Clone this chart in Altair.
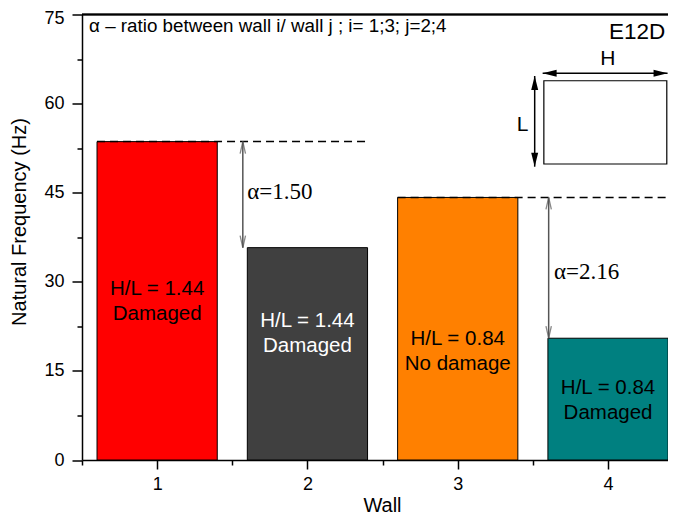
import altair as alt
import pandas as pd

# ---------------- data ----------------
walls = [1, 2, 3, 4]
frequencies = [53.6, 35.75, 44.2, 20.5]
hl_ratios = ["H/L = 1.44", "H/L = 1.44", "H/L = 0.84", "H/L = 0.84"]
conditions = ["Damaged", "Damaged", "No damage", "Damaged"]
alpha_labels = ["α=1.50", "α=2.16"]
alpha_pairs = [(1, 2), (3, 4)]
y_major = [0, 15, 30, 45, 60, 75]
y_minor = [7.5, 22.5, 37.5, 52.5, 67.5]
x_major = [1, 2, 3, 4]
x_minor = [0.5, 1.5, 2.5, 3.5]
note_text = "α – ratio between wall i/ wall j ; i= 1;3; j=2;4"
tag_text = "E12D"

# ---------------- styles / layout ----------------
bar_colors = ["#ff0000", "#404040", "#ff8000", "#008080"]
label_colors = ["#000000", "#ffffff", "#000000", "#000000"]
label_y = [28.87, 23.48, 20.45, 12.04]
HALF = 0.4
X_MIN, X_MAX = 0.5, 4.399
Y_MIN, Y_MAX = 0, 75
W, H = 586, 445.5
SANS = "Liberation Sans"
SERIF = "Liberation Serif"

xs = alt.Scale(domain=[X_MIN, X_MAX], nice=False, zero=False)
ys = alt.Scale(domain=[Y_MIN, Y_MAX], nice=False)

x_axis = alt.Axis(
    values=sorted(x_major + x_minor),
    labelExpr="datum.value % 1 == 0 ? format(datum.value, 'd') : ''",
    tickSize={"condition": {"test": "datum.value % 1 == 0", "value": 9}, "value": 5},
    tickWidth=1.5, tickColor="black", domainColor="black", domainWidth=1.5,
    labelFont=SANS, labelFontSize=18, labelColor="black", labelPadding=6,
    labelFlush=False, grid=False,
    title="Wall", titleFont=SANS, titleFontSize=20, titleFontWeight="normal",
    titleColor="black", titlePadding=2, titleX=300,
)
y_axis = alt.Axis(
    values=sorted(y_major + y_minor),
    labelExpr="datum.value % 15 == 0 ? format(datum.value, 'd') : ''",
    tickSize={"condition": {"test": "datum.value % 15 == 0", "value": 10}, "value": 5},
    labelOffset={"condition": {"test": "datum.value == 75", "value": 3.5}, "value": 0},
    tickWidth=1.5, tickColor="black", domainColor="black", domainWidth=1.5,
    labelFont=SANS, labelFontSize=18, labelColor="black", labelPadding=8,
    labelFlush=False, grid=False,
    title="Natural Frequency (Hz)", titleFont=SANS, titleFontSize=20,
    titleFontWeight="normal", titleColor="black", titlePadding=14, titleY=207,
)

bars = pd.DataFrame({
    "wall": walls,
    "freq": frequencies,
    "x0": [w - HALF for w in walls],
    "x1": [w + HALF for w in walls],
    "text": [f"{a}\n{b}" for a, b in zip(hl_ratios, conditions)],
    "tcolor": label_colors,
    "ly": label_y,
})

bar_layer = alt.Chart(bars).mark_rect(stroke="black", strokeWidth=1).encode(
    x=alt.X("x0:Q", scale=xs, axis=x_axis),
    x2="x1:Q",
    y=alt.Y("freq:Q", scale=ys, axis=y_axis),
    y2=alt.datum(0),
    color=alt.Color("wall:N", scale=alt.Scale(domain=walls, range=bar_colors), legend=None),
)

bar_text = alt.Chart(bars).mark_text(
    font=SANS, fontSize=20.5, lineBreak="\n", lineHeight=25, align="center", baseline="middle"
).encode(
    x=alt.X("wall:Q", scale=xs),
    y=alt.Y("ly:Q", scale=ys),
    text="text:N",
    color=alt.Color("tcolor:N", scale=None),
)

# reference dashed lines at the top of walls i
fdict = dict(zip(walls, frequencies))
ref = pd.DataFrame({
    "x0": [i - HALF for i, j in alpha_pairs],
    "x1": [2.4, X_MAX],
    "y": [fdict[i] for i, j in alpha_pairs],
})
ref_layer = alt.Chart(ref).mark_rule(strokeDash=[8, 5], strokeWidth=1.5, color="black").encode(
    x=alt.X("x0:Q", scale=xs), x2="x1:Q", y=alt.Y("y:Q", scale=ys)
)

# alpha arrows
arrow_x = [1.57, 3.605]
arr = pd.DataFrame({
    "x": arrow_x,
    "hi": [fdict[i] for i, j in alpha_pairs],
    "lo": [fdict[j] for i, j in alpha_pairs],
    "label": alpha_labels,
    "lx": [1.6, 3.64],
    "lyy": [45.1, 31.65],
})
arrow_rule = alt.Chart(arr).mark_rule(color="#555555", strokeWidth=1.5).encode(
    x=alt.X("x:Q", scale=xs), y=alt.Y("hi:Q", scale=ys), y2="lo:Q"
)
head_up = alt.Chart(arr).mark_point(
    shape="M -0.45 2 L 0 0 L 0.45 2", filled=False, size=144, color="#555555", strokeWidth=1.3
).encode(x=alt.X("x:Q", scale=xs), y=alt.Y("hi:Q", scale=ys))
head_down = alt.Chart(arr).mark_point(
    shape="M -0.45 -2 L 0 0 L 0.45 -2", filled=False, size=144, color="#555555", strokeWidth=1.3
).encode(x=alt.X("x:Q", scale=xs), y=alt.Y("lo:Q", scale=ys))
alpha_text = alt.Chart(arr).mark_text(
    font=SERIF, fontSize=23, align="left", baseline="middle", color="black"
).encode(x=alt.X("lx:Q", scale=xs), y=alt.Y("lyy:Q", scale=ys), text="label:N")

# top frame line
top_line = alt.Chart(bars).mark_rule(color="black", strokeWidth=1.5).encode(
    y=alt.datum(Y_MAX), x=alt.value(0), x2=alt.value(W)
)

# annotations
notes = pd.DataFrame({"x": [0.547, 4.194], "y": [73.06, 72.05], "t": [note_text, tag_text]})
note_layer = alt.Chart(notes.iloc[[0]]).mark_text(
    font=SANS, fontSize=18.8, align="left", baseline="middle", color="black"
).encode(x=alt.X("x:Q", scale=xs), y=alt.Y("y:Q", scale=ys), text="t:N")
tag_layer = alt.Chart(notes.iloc[[1]]).mark_text(
    font=SANS, fontSize=22.5, align="center", baseline="middle", color="black"
).encode(x=alt.X("x:Q", scale=xs), y=alt.Y("y:Q", scale=ys), text="t:N")

# H x L sketch
sk_rect = pd.DataFrame({"x0": [3.573], "x1": [4.391], "y0": [49.83], "y1": [63.85]})
sketch_rect = alt.Chart(sk_rect).mark_rect(fill="white", stroke="black", strokeWidth=1.2).encode(
    x=alt.X("x0:Q", scale=xs), x2="x1:Q", y=alt.Y("y0:Q", scale=ys), y2="y1:Q"
)
h_arrow = pd.DataFrame({"x0": [3.565], "x1": [4.396], "y": [65.10]})
l_arrow = pd.DataFrame({"x": [3.512], "y0": [49.38], "y1": [64.65]})
h_rule = alt.Chart(h_arrow).mark_rule(color="black", strokeWidth=1.5).encode(
    x=alt.X("x0:Q", scale=xs), x2="x1:Q", y=alt.Y("y:Q", scale=ys))
l_rule = alt.Chart(l_arrow).mark_rule(color="black", strokeWidth=1.5).encode(
    x=alt.X("x:Q", scale=xs), y=alt.Y("y0:Q", scale=ys), y2="y1:Q")
tri = dict(filled=True, size=196, color="black", strokeWidth=0, opacity=1)
h_left = alt.Chart(h_arrow).mark_point(shape="M 0 0 L 2 -0.5 L 2 0.5 Z", **tri).encode(
    x=alt.X("x0:Q", scale=xs), y=alt.Y("y:Q", scale=ys))
h_right = alt.Chart(h_arrow).mark_point(shape="M 0 0 L -2 -0.5 L -2 0.5 Z", **tri).encode(
    x=alt.X("x1:Q", scale=xs), y=alt.Y("y:Q", scale=ys))
l_up = alt.Chart(l_arrow).mark_point(shape="M 0 0 L -0.5 2 L 0.5 2 Z", **tri).encode(
    x=alt.X("x:Q", scale=xs), y=alt.Y("y1:Q", scale=ys))
l_down = alt.Chart(l_arrow).mark_point(shape="M 0 0 L -0.5 -2 L 0.5 -2 Z", **tri).encode(
    x=alt.X("x:Q", scale=xs), y=alt.Y("y0:Q", scale=ys))
hl_txt = pd.DataFrame({"x": [3.998, 3.432], "y": [67.46, 56.40], "t": ["H", "L"]})
hl_layer = alt.Chart(hl_txt).mark_text(
    font=SANS, fontSize=21, align="center", baseline="middle", color="black"
).encode(x=alt.X("x:Q", scale=xs), y=alt.Y("y:Q", scale=ys), text="t:N")

chart = alt.layer(
    bar_layer, ref_layer, arrow_rule, head_up, head_down, alpha_text, bar_text,
    top_line, note_layer, tag_layer, sketch_rect, h_rule, l_rule,
    h_left, h_right, l_up, l_down, hl_layer,
).properties(
    width=W, height=H,
    autosize=alt.AutoSizeParams(type="none"),
    padding={"left": 74, "top": 6.5, "right": 0, "bottom": 56},
    background="white",
).configure_view(stroke=None)

chart.save("out.html", embed_options={"renderer": "svg", "actions": False})
